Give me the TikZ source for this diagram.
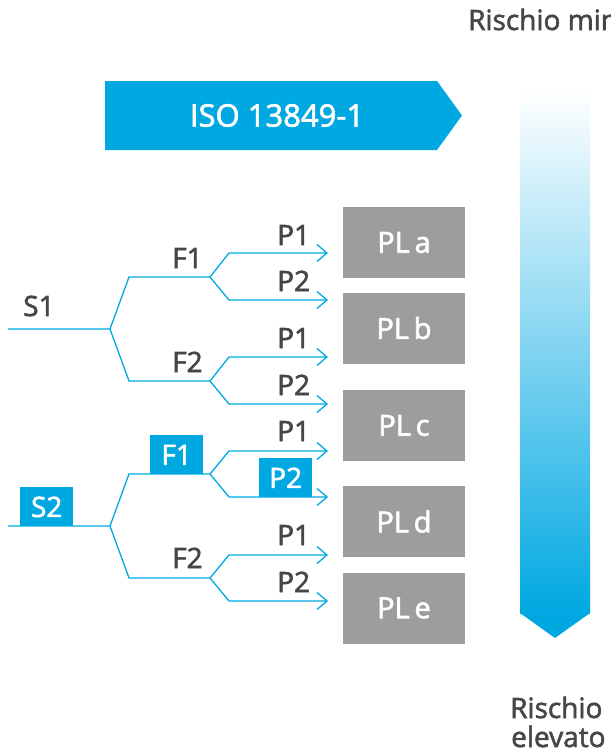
\documentclass[tikz,border=0pt]{standalone}
\usepackage{fontspec}
\setmainfont{Open Sans}[FakeBold=2]
\usetikzlibrary{arrows.meta}
\definecolor{eblue}{RGB}{0,168,226}
\definecolor{egray}{RGB}{157,157,156}
\definecolor{etext}{RGB}{70,70,70}
\tikzset{
  branch/.style={draw=eblue, line width=1.3pt, line join=miter},
  arr/.style={branch, -{Straight Barb[length=10pt,width=17pt,line width=1.3pt]}},
  lbl/.style={anchor=base west, inner sep=0pt, text=etext, font=\fontsize{28}{32}\selectfont},
  hlbl/.style={anchor=south west, fill=eblue, text=white, inner sep=0pt, minimum width=53pt, minimum height=39pt, font=\fontsize{28}{32}\selectfont, text depth=0pt},
  plbox/.style={fill=egray, text=white, inner sep=0pt, minimum width=122pt, minimum height=71pt, font=\fontsize{29}{32}\selectfont},
}
\begin{document}
\begin{tikzpicture}[x=1pt,y=-1pt]
\useasboundingbox (0,0) rectangle (611,756);
\clip (0,0) rectangle (611,756);

% banner
\fill[eblue] (105,81) -- (437,81) -- (462,115.5) -- (437,150) -- (105,150) -- cycle;
\node[text=white, font=\fontsize{31}{34}\selectfont, inner sep=0pt] (iso) at (277,115.5) {ISO 13849-1};

% gradient bar
\shade[top color=white, bottom color=eblue] (520,90) rectangle (590,613.5);
\fill[eblue] (520,613) -- (590,613) -- (555,638) -- cycle;
\node[lbl] (rmin) at (468,30) {Rischio minimo};
\node[lbl] (rel1) at (510,718) {Rischio};
\node[lbl] (rel2) at (511,747) {elevato};

% PL boxes
\node[plbox] (pla) at (404,242.5) {PL\,a};
\node[plbox] (plb) at (404,328) {PL\,b};
\node[plbox] (plc) at (404,425.5) {PL\,c};
\node[plbox] (pld) at (404,521.5) {PL\,d};
\node[plbox] (ple) at (404,608) {PL\,e};

% ---- S1 tree ----
\coordinate (s1a) at (8,329);
\coordinate (s1) at (110,329);
\coordinate (s1f1a) at (129,277);
\coordinate (s1f1) at (210,277);
\coordinate (s1f2a) at (129,381);
\coordinate (s1f2) at (210,381);
\coordinate (s1f1p1a) at (229,253);
\coordinate (s1f1p1) at (328,253);
\coordinate (s1f1p2a) at (229,300);
\coordinate (s1f1p2) at (328,300);
\coordinate (s1f2p1a) at (229,357);
\coordinate (s1f2p1) at (328,357);
\coordinate (s1f2p2a) at (229,404);
\coordinate (s1f2p2) at (328,404);

\draw[branch] (s1a) -- (s1) -- (s1f1a) -- (s1f1);
\draw[branch] (s1) -- (s1f2a) -- (s1f2);
\draw[arr] (s1f1) -- (s1f1p1a) -- (s1f1p1);
\draw[arr] (s1f1) -- (s1f1p2a) -- (s1f1p2);
\draw[arr] (s1f2) -- (s1f2p1a) -- (s1f2p1);
\draw[arr] (s1f2) -- (s1f2p2a) -- (s1f2p2);

\node[lbl] (ls1) at (23,316) {S1};
\node[lbl] (ls1f1) at (172,268) {F1};
\node[lbl] (ls1f2) at (172,372) {F2};
\node[lbl] (ls1f1p1) at (277,245) {P1};
\node[lbl] (ls1f1p2) at (277,291) {P2};
\node[lbl] (ls1f2p1) at (277,348) {P1};
\node[lbl] (ls1f2p2) at (277,395) {P2};

% ---- S2 tree ----
\coordinate (s2a) at (8,526);
\coordinate (s2) at (110,526);
\coordinate (s2f1a) at (129,474);
\coordinate (s2f1) at (210,474);
\coordinate (s2f2a) at (129,578);
\coordinate (s2f2) at (210,578);
\coordinate (s2f1p1a) at (229,451);
\coordinate (s2f1p1) at (328,451);
\coordinate (s2f1p2a) at (229,497);
\coordinate (s2f1p2) at (328,497);
\coordinate (s2f2p1a) at (229,555);
\coordinate (s2f2p1) at (328,555);
\coordinate (s2f2p2a) at (229,601);
\coordinate (s2f2p2) at (328,601);

\draw[branch] (s2a) -- (s2) -- (s2f1a) -- (s2f1);
\draw[branch] (s2) -- (s2f2a) -- (s2f2);
\draw[arr] (s2f1) -- (s2f1p1a) -- (s2f1p1);
\draw[arr] (s2f1) -- (s2f1p2a) -- (s2f1p2);
\draw[arr] (s2f2) -- (s2f2p1a) -- (s2f2p1);
\draw[arr] (s2f2) -- (s2f2p2a) -- (s2f2p2);

\node[hlbl] (ls2) at (20,526.5) {S2};
\node[hlbl] (ls2f1) at (150,474.5) {F1};
\node[hlbl] (ls2f1p2) at (259,497.5) {P2};
\node[lbl] (ls2f1p1) at (277,441) {P1};
\node[lbl] (ls2f2) at (172,568) {F2};
\node[lbl] (ls2f2p1) at (277,545) {P1};
\node[lbl] (ls2f2p2) at (277,592) {P2};
\end{tikzpicture}
\end{document}
